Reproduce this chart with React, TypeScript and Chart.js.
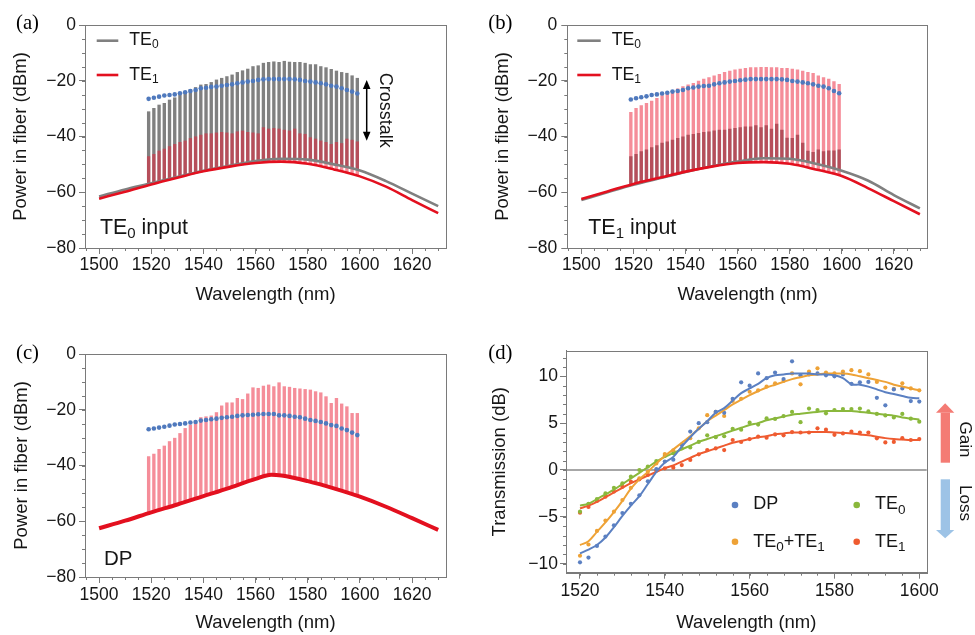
import React, { useEffect, useRef } from 'react';
import { Chart, registerables } from 'chart.js';

Chart.register(...registerables);

const FONT = '"Liberation Sans", Arial, Helvetica, sans-serif';
const SERIF = '"Liberation Serif", "Times New Roman", serif';
const AXIS = '#7a7a7a';
const TXT = '#161616';
const GREY = '#808080';
const RED = '#e3101f';
const PINK = 'rgba(236, 28, 52, 0.5)';
const DOT_BLUE = '#4f79bd';

// ---------------- tick labels ----------------
const SPEC_X_TICKS = [1500, 1520, 1540, 1560, 1580, 1600, 1620];
const SPEC_Y_TICKS = [0, -20, -40, -60, -80];
const TRANS_X_TICKS = [1520, 1540, 1560, 1580, 1600];
const TRANS_Y_TICKS = [-10, -5, 0, 5, 10];

// ---------------- spectra (a)-(c) ----------------
const CHANNELS = [1519, 1521, 1523, 1525, 1527, 1529, 1531, 1533, 1535, 1537, 1539, 1541, 1543, 1545, 1547, 1549, 1551, 1553, 1555, 1557, 1559, 1561, 1563, 1565, 1567, 1569, 1571, 1573, 1575, 1577, 1579, 1581, 1583, 1585, 1587, 1589, 1591, 1593, 1595, 1597, 1599];
const BASE_WL = [1500, 1510, 1520, 1530, 1540, 1550, 1560, 1570, 1580, 1590, 1600, 1610, 1620, 1630];

// (a) TE0 input
const A_TE0_BASE = [-61.5, -59.0, -56.8, -54.5, -52.3, -50.5, -48.8, -48.0, -48.3, -50.0, -52.2, -56.0, -60.5, -65.0];
const A_TE1_BASE = [-62.3, -59.8, -57.2, -54.8, -52.5, -50.8, -49.5, -49.0, -49.8, -51.8, -54.3, -58.0, -62.8, -67.5];
const A_TE0_PEAK = [-31.1, -29.9, -28.7, -28.1, -26.9, -26.1, -25.1, -24.1, -23.1, -22.4, -21.5, -21.3, -20.6, -19.7, -19.1, -18.5, -17.9, -17.0, -16.4, -15.8, -14.9, -14.6, -13.7, -13.4, -13.2, -13.4, -13.0, -13.3, -13.4, -13.4, -13.7, -14.2, -14.2, -14.9, -15.3, -15.9, -16.5, -17.0, -17.3, -18.2, -19.1];
const A_TE1_PEAK = [-47.2, -46.4, -45.2, -44.5, -43.6, -42.8, -42.1, -41.6, -40.7, -40.1, -39.5, -39.0, -39.0, -38.7, -38.5, -38.7, -39.0, -38.3, -38.0, -38.5, -38.7, -39.0, -36.8, -37.3, -37.1, -37.3, -37.7, -38.0, -37.3, -39.0, -39.2, -40.4, -40.9, -41.6, -42.1, -42.8, -42.1, -42.5, -40.9, -41.3, -41.9];
const A_DOTS = [-26.5, -26.1, -25.7, -25.3, -25.1, -24.9, -24.5, -24.1, -23.7, -23.3, -22.7, -22.5, -22.2, -22.1, -21.8, -21.5, -21.3, -20.9, -20.6, -20.3, -20.1, -19.7, -19.5, -19.4, -19.4, -19.4, -19.4, -19.4, -19.5, -19.7, -20.1, -20.3, -20.6, -20.9, -21.3, -21.8, -22.1, -22.7, -23.3, -23.9, -24.6];

// (b) TE1 input
const B_TE0_BASE = [-62.8, -60.0, -57.3, -55.0, -52.7, -50.7, -49.0, -47.8, -48.0, -49.8, -52.3, -55.8, -61.0, -65.8];
const B_TE1_BASE = [-62.4, -59.7, -57.0, -54.8, -52.6, -50.8, -49.5, -49.2, -49.8, -51.8, -54.2, -58.5, -63.2, -67.9];
const B_TE1_PEAK = [-31.3, -29.9, -28.9, -28.1, -27.3, -26.3, -25.3, -24.5, -23.7, -22.9, -22.1, -21.5, -20.9, -20.1, -19.4, -18.9, -18.2, -17.7, -17.0, -16.5, -16.1, -15.8, -15.5, -15.3, -15.3, -15.2, -15.2, -15.3, -15.3, -15.5, -15.5, -15.8, -16.1, -16.5, -17.0, -17.3, -18.2, -18.9, -19.4, -20.3, -21.3];
const B_TE0_PEAK = [-47.2, -46.4, -45.4, -44.8, -44.0, -43.3, -42.4, -41.9, -41.3, -40.7, -40.1, -39.5, -39.2, -38.9, -38.5, -38.3, -38.0, -37.7, -37.7, -37.3, -37.1, -36.8, -36.5, -36.5, -36.1, -36.8, -36.1, -37.3, -35.5, -37.7, -40.6, -40.7, -39.5, -42.4, -45.2, -45.7, -44.8, -45.4, -45.1, -45.1, -44.8];
const B_DOTS = [-26.7, -26.3, -25.9, -25.6, -25.1, -24.9, -24.6, -24.3, -23.9, -23.7, -23.3, -22.7, -22.4, -22.1, -21.9, -21.8, -21.3, -20.9, -20.6, -20.3, -20.1, -19.8, -19.6, -19.4, -19.4, -19.4, -19.4, -19.4, -19.4, -19.5, -19.7, -20.1, -20.3, -20.6, -20.9, -21.3, -21.8, -22.1, -22.7, -23.7, -24.5];

// (c) DP
const C_BASE_WL = [1500, 1510, 1520, 1530, 1540, 1550, 1560, 1566, 1570, 1580, 1590, 1600, 1610, 1620, 1630];
const C_BASE = [-62.5, -59.8, -56.8, -54.0, -51.0, -48.0, -44.8, -43.3, -43.6, -45.6, -48.2, -51.2, -54.8, -58.9, -63.1];
const C_PEAK = [-36.8, -35.9, -34.2, -33.0, -31.4, -30.2, -28.5, -26.7, -25.5, -24.9, -22.8, -22.5, -22.2, -21.0, -18.6, -17.5, -17.5, -15.9, -16.3, -14.3, -12.1, -12.3, -11.5, -11.1, -11.7, -10.3, -11.7, -11.9, -12.3, -12.5, -12.7, -12.9, -13.5, -13.9, -15.3, -17.7, -15.9, -17.9, -18.9, -21.3, -21.3];
const C_DOTS = [-27.0, -26.7, -26.4, -26.1, -25.7, -25.3, -25.1, -24.9, -24.6, -24.4, -23.9, -23.7, -23.4, -23.2, -22.9, -22.7, -22.5, -22.2, -22.0, -21.9, -21.8, -21.6, -21.5, -21.5, -21.5, -22.0, -22.0, -22.2, -22.5, -22.7, -23.2, -23.7, -24.0, -24.4, -24.9, -25.5, -25.8, -26.7, -27.3, -28.2, -29.1];

// ---------------- transmission (d) ----------------
const WL_D = [1520, 1522, 1524, 1526, 1528, 1530, 1532, 1534, 1536, 1538, 1540, 1542, 1544, 1546, 1548, 1550, 1552, 1554, 1556, 1558, 1560, 1562, 1564, 1566, 1568, 1570, 1572, 1574, 1576, 1578, 1580, 1582, 1584, 1586, 1588, 1590, 1592, 1594, 1596, 1598, 1600];
const DP_PTS = [-9.85, -9.35, -8.1, -7.1, -5.9, -4.6, -3.6, -2.7, -1.2, 0.1, 0.9, 1.1, 2.7, 4.1, 5.0, 5.1, 6.2, 6.1, 7.6, 9.35, 9.0, 10.3, 9.8, 10.4, 9.7, 11.6, 10.1, 10.2, 10.3, 10.1, 10.0, 10.2, 9.2, 9.35, 9.4, 7.7, 6.9, 8.6, 8.7, 7.35, 7.3];
const DP_FIT = [-8.9, -8.5, -8.0, -7.2, -6.1, -4.9, -3.8, -2.8, -1.5, -0.2, 0.8, 1.4, 2.5, 3.5, 4.4, 5.2, 6.1, 6.6, 7.4, 8.2, 8.7, 9.2, 9.8, 10.1, 10.2, 10.3, 10.3, 10.3, 10.2, 10.2, 10.1, 9.8, 9.15, 9.1, 8.9, 8.6, 8.3, 8.1, 7.9, 7.7, 7.65];
const SUM_PTS = [-9.15, -7.95, -6.5, -5.4, -4.45, -3.2, -1.9, -0.9, -0.2, 0.7, 1.7, 2.1, 2.7, 3.4, 4.45, 5.85, 6.2, 5.76, 7.36, 7.6, 8.35, 8.5, 8.9, 9.25, 9.5, 10.3, 9.14, 10.5, 10.85, 10.4, 10.3, 10.5, 10.65, 10.55, 10.2, 9.4, 8.8, 8.65, 9.25, 8.7, 8.5];
const SUM_FIT = [-8.0, -7.6, -6.6, -5.6, -4.5, -3.3, -2.0, -1.0, -0.2, 0.7, 1.5, 2.2, 2.9, 3.6, 4.4, 5.2, 5.8, 6.4, 7.0, 7.5, 8.0, 8.4, 8.8, 9.1, 9.4, 9.7, 9.9, 10.1, 10.2, 10.3, 10.3, 10.3, 10.2, 10.0, 9.8, 9.6, 9.4, 9.1, 8.9, 8.7, 8.5];
const TE0_PTS = [-4.45, -3.6, -3.1, -2.5, -1.9, -1.42, -0.71, 0.0, 0.36, 0.96, 1.5, 1.8, 2.3, 2.4, 3.0, 3.7, 3.5, 3.6, 4.4, 4.3, 5.05, 4.85, 5.5, 5.45, 5.75, 6.2, 5.1, 6.55, 6.4, 6.05, 6.4, 6.5, 6.5, 6.55, 6.25, 5.98, 5.82, 5.6, 5.98, 5.48, 5.16];
const TE0_FIT = [-3.8, -3.6, -3.1, -2.6, -2.1, -1.5, -0.9, -0.3, 0.3, 0.9, 1.4, 1.8, 2.2, 2.6, 3.0, 3.3, 3.6, 3.9, 4.2, 4.5, 4.8, 5.0, 5.3, 5.5, 5.7, 5.9, 6.0, 6.1, 6.2, 6.3, 6.3, 6.3, 6.3, 6.2, 6.1, 6.0, 5.9, 5.8, 5.6, 5.5, 5.4];
const TE1_PTS = [-4.55, -3.95, -3.3, -2.85, -2.3, -1.8, -1.25, -1.0, -0.53, -0.07, 0.18, 0.25, 0.53, 1.07, 1.67, 2.13, 2.3, 2.13, 3.2, 3.0, 3.3, 3.56, 3.45, 3.8, 3.7, 4.05, 4.0, 4.0, 4.45, 4.3, 3.75, 3.9, 4.09, 4.0, 4.0, 3.38, 2.94, 3.0, 3.4, 3.2, 3.3];
const TE1_FIT = [-4.1, -3.8, -3.4, -2.9, -2.4, -1.9, -1.4, -1.0, -0.6, -0.2, 0.2, 0.5, 0.9, 1.3, 1.7, 2.0, 2.3, 2.6, 2.9, 3.1, 3.3, 3.5, 3.6, 3.8, 3.9, 4.0, 4.0, 4.05, 4.05, 4.05, 4.0, 3.95, 3.9, 3.8, 3.7, 3.55, 3.4, 3.3, 3.25, 3.2, 3.2];

const C_DP = '#5b80c2';
const C_SUM = '#eea236';
const C_TE0 = '#8ab83c';
const C_TE1 = '#ef5b30';

// ---------------- helpers ----------------
function interp(xs: number[], ys: number[], x: number): number {
  for (let i = 0; i < xs.length - 1; i++) {
    if (x >= xs[i] && x <= xs[i + 1]) {
      const t = (x - xs[i]) / (xs[i + 1] - xs[i]);
      return ys[i] + t * (ys[i + 1] - ys[i]);
    }
  }
  return ys[ys.length - 1];
}
const pts = (xs: number[], ys: number[]) => xs.map((x, i) => ({ x, y: ys[i] }));
const minus = (v: number) => (v < 0 ? '\u2212' + Math.abs(v) : String(v));

type Seg = [string, number, number?];
function rich(ctx: CanvasRenderingContext2D, x: number, y: number, segs: Seg[]) {
  ctx.save();
  ctx.fillStyle = TXT;
  ctx.textAlign = 'left';
  ctx.textBaseline = 'alphabetic';
  let cx = x;
  for (const [t, s, dy] of segs) {
    ctx.font = `${s}px ${FONT}`;
    ctx.fillText(t, cx, y + (dy || 0));
    cx += ctx.measureText(t).width;
  }
  ctx.restore();
}
function rotText(ctx: CanvasRenderingContext2D, t: string, x: number, y: number, size: number) {
  ctx.save();
  ctx.translate(x, y);
  ctx.rotate(Math.PI / 2);
  ctx.fillStyle = TXT;
  ctx.font = `${size}px ${FONT}`;
  ctx.textAlign = 'left';
  ctx.textBaseline = 'alphabetic';
  ctx.fillText(t, 0, 0);
  ctx.restore();
}
function legendLine(ctx: CanvasRenderingContext2D, x1: number, x2: number, y: number, color: string) {
  ctx.save();
  ctx.strokeStyle = color;
  ctx.lineWidth = 2.6;
  ctx.beginPath();
  ctx.moveTo(x1, y);
  ctx.lineTo(x2, y);
  ctx.stroke();
  ctx.restore();
}
function panelLabel(ctx: CanvasRenderingContext2D, t: string, x: number, y: number) {
  ctx.save();
  ctx.fillStyle = '#000';
  ctx.font = `20.7px ${SERIF}`;
  ctx.textAlign = 'left';
  ctx.textBaseline = 'alphabetic';
  ctx.fillText(t, x, y);
  ctx.restore();
}
function doubleArrow(ctx: CanvasRenderingContext2D, x: number, y1: number, y2: number) {
  ctx.save();
  ctx.strokeStyle = '#000';
  ctx.fillStyle = '#000';
  ctx.lineWidth = 1.5;
  ctx.beginPath();
  ctx.moveTo(x, y1 + 6);
  ctx.lineTo(x, y2 - 6);
  ctx.stroke();
  ctx.beginPath();
  ctx.moveTo(x, y1);
  ctx.lineTo(x - 3.8, y1 + 9);
  ctx.lineTo(x + 3.8, y1 + 9);
  ctx.closePath();
  ctx.fill();
  ctx.beginPath();
  ctx.moveTo(x, y2);
  ctx.lineTo(x - 3.8, y2 - 9);
  ctx.lineTo(x + 3.8, y2 - 9);
  ctx.closePath();
  ctx.fill();
  ctx.restore();
}
function blockArrow(ctx: CanvasRenderingContext2D, color: string, sx1: number, sx2: number, sy1: number, sy2: number, hx1: number, hx2: number, baseY: number, tipY: number) {
  ctx.save();
  ctx.fillStyle = color;
  ctx.fillRect(sx1, Math.min(sy1, sy2), sx2 - sx1, Math.abs(sy2 - sy1));
  ctx.beginPath();
  ctx.moveTo(hx1, baseY);
  ctx.lineTo(hx2, baseY);
  ctx.lineTo((hx1 + hx2) / 2, tipY);
  ctx.closePath();
  ctx.fill();
  ctx.restore();
}
function dot(ctx: CanvasRenderingContext2D, x: number, y: number, color: string) {
  ctx.save();
  ctx.fillStyle = color;
  ctx.beginPath();
  ctx.arc(x, y, 3.3, 0, Math.PI * 2);
  ctx.fill();
  ctx.restore();
}

// frame + minor ticks + annotations
function decoPlugin(xMinor: number[], yMinor: number[], zeroLine: boolean, draw: (ctx: CanvasRenderingContext2D) => void) {
  return {
    id: 'deco',
    beforeDatasetsDraw(chart: any) {
      if (!zeroLine) return;
      const { ctx, chartArea: ca, scales } = chart;
      const p = scales.y.getPixelForValue(0);
      ctx.save();
      ctx.strokeStyle = '#8a8a8a';
      ctx.lineWidth = 1.5;
      ctx.beginPath();
      ctx.moveTo(ca.left, p);
      ctx.lineTo(ca.right, p);
      ctx.stroke();
      ctx.restore();
    },
    afterDraw(chart: any) {
      const { ctx, chartArea: ca, scales } = chart;
      ctx.save();
      ctx.strokeStyle = AXIS;
      ctx.lineWidth = 1;
      ctx.beginPath();
      for (const v of xMinor) {
        const p = Math.round(scales.x.getPixelForValue(v)) + 0.5;
        ctx.moveTo(p, ca.bottom);
        ctx.lineTo(p, ca.bottom + 3);
      }
      for (const v of yMinor) {
        const p = Math.round(scales.y.getPixelForValue(v)) + 0.5;
        ctx.moveTo(ca.left, p);
        ctx.lineTo(ca.left - 3, p);
      }
      ctx.stroke();
      ctx.strokeRect(Math.round(ca.left) + 0.5, Math.round(ca.top) + 0.5, Math.round(ca.right - ca.left), Math.round(ca.bottom - ca.top));
      ctx.restore();
      draw(ctx);
    },
  };
}

function range(a: number, b: number, s: number) {
  const out: number[] = [];
  for (let v = a; v <= b + 1e-9; v += s) out.push(v);
  return out;
}

interface Geo { yW: number; xH: number; top: number; right: number; yTitlePad: number; xTitlePad: number; xTickPad: number; yTickPad: number; }

function scales(g: Geo, xr: [number, number], yr: [number, number], xt: number[], yt: number[], yTitle: string) {
  return {
    x: {
      type: 'linear', min: xr[0], max: xr[1], offset: false,
      afterBuildTicks: (s: any) => { s.ticks = xt.map((v) => ({ value: v })); },
      afterFit: (s: any) => { s.height = g.xH; },
      grid: { display: true, drawOnChartArea: false, drawTicks: true, tickLength: 6, tickColor: AXIS, offset: false },
      border: { display: true, color: AXIS, width: 1 },
      ticks: { autoSkip: false, maxRotation: 0, minRotation: 0, padding: g.xTickPad, color: TXT, font: { family: FONT, size: 17.5 }, callback: (v: number) => minus(v) },
      title: { display: true, text: 'Wavelength (nm)', color: TXT, font: { family: FONT, size: 18.5 }, padding: { top: 0, bottom: g.xTitlePad } },
    },
    y: {
      type: 'linear', min: yr[0], max: yr[1], beginAtZero: false,
      afterBuildTicks: (s: any) => { s.ticks = yt.map((v) => ({ value: v })); },
      afterFit: (s: any) => { s.width = g.yW; },
      grid: { display: true, drawOnChartArea: false, drawTicks: true, tickLength: 6, tickColor: AXIS },
      border: { display: true, color: AXIS, width: 1 },
      ticks: { autoSkip: false, padding: g.yTickPad, color: TXT, font: { family: FONT, size: 17.5 }, callback: (v: number) => minus(v) },
      title: { display: true, text: yTitle, color: TXT, font: { family: FONT, size: 18.5 }, padding: { top: g.yTitlePad, bottom: 0 } },
    },
  };
}

function spikes(base: number[], baseWl: number[], peaks: number[], color: string, order: number) {
  return {
    type: 'bar', order, grouped: false, barThickness: 2.7, borderWidth: 0, borderSkipped: false,
    backgroundColor: color,
    data: CHANNELS.map((w, i) => ({ x: w, y: [interp(baseWl, base, w), peaks[i]] })),
  };
}
function baseLine(wl: number[], vals: number[], color: string, width: number, order: number) {
  return { type: 'line', order, data: pts(wl, vals), borderColor: color, borderWidth: width, pointRadius: 0, cubicInterpolationMode: 'monotone', fill: false };
}
function dots(vals: number[], order: number) {
  return { type: 'line', order, data: pts(CHANNELS, vals), showLine: false, pointRadius: 2.3, pointBackgroundColor: DOT_BLUE, pointBorderWidth: 0, borderColor: DOT_BLUE };
}

function spectrumConfig(g: Geo, datasets: any[], deco: any) {
  return {
    type: 'bar',
    data: { datasets },
    plugins: [deco],
    options: {
      responsive: false, animation: false, devicePixelRatio: 1, events: [],
      layout: { padding: { left: 0, top: g.top, right: g.right, bottom: 0 } },
      plugins: { legend: { display: false }, tooltip: { enabled: false } },
      scales: scales(g, [1494.6, 1633], [-80, 0], SPEC_X_TICKS, SPEC_Y_TICKS, 'Power in fiber (dBm)'),
    },
  };
}

const SPEC_X_MINOR = range(1495, 1630, 5);
const SPEC_Y_MINOR = range(-80, 0, 5);

function configA() {
  const g: Geo = { yW: 85, xH: 72, top: 25, right: 41, yTitlePad: 9.9, xTitlePad: 13.9, xTickPad: 1, yTickPad: 3 };
  return spectrumConfig(g, [
    dots(A_DOTS, 0),
    baseLine(BASE_WL, A_TE1_BASE, RED, 2.6, 1),
    baseLine(BASE_WL, A_TE0_BASE, GREY, 2.6, 2),
    spikes(A_TE1_BASE, BASE_WL, A_TE1_PEAK, PINK, 3),
    spikes(A_TE0_BASE, BASE_WL, A_TE0_PEAK, GREY, 4),
  ], decoPlugin(SPEC_X_MINOR, SPEC_Y_MINOR, false, (ctx) => {
    legendLine(ctx, 96.7, 118.3, 40.7, GREY);
    rich(ctx, 129.3, 45, [['TE', 17.7], ['0', 12, 2.7]]);
    legendLine(ctx, 96.7, 118.3, 75, RED);
    rich(ctx, 129.3, 80, [['TE', 17.7], ['1', 12, 2.7]]);
    rich(ctx, 100, 234.3, [['TE', 21.4], ['0', 15, 4], [' input', 21.4]]);
    rotText(ctx, 'Crosstalk', 379.5, 72.7, 18);
    doubleArrow(ctx, 366.7, 80, 140.7);
    panelLabel(ctx, '(a)', 16, 29.4);
  }));
}

function configB() {
  const g: Geo = { yW: 80.3, xH: 72, top: 25, right: 47.3, yTitlePad: 5.2, xTitlePad: 13.9, xTickPad: 1, yTickPad: 4 };
  return spectrumConfig(g, [
    dots(B_DOTS, 0),
    baseLine(BASE_WL, B_TE1_BASE, RED, 2.6, 1),
    baseLine(BASE_WL, B_TE0_BASE, GREY, 2.6, 2),
    spikes(B_TE1_BASE, BASE_WL, B_TE1_PEAK, PINK, 3),
    spikes(B_TE0_BASE, BASE_WL, B_TE0_PEAK, GREY, 4),
  ], decoPlugin(SPEC_X_MINOR, SPEC_Y_MINOR, false, (ctx) => {
    legendLine(ctx, 90.3, 113.7, 40.7, GREY);
    rich(ctx, 124.7, 45, [['TE', 17.7], ['0', 12, 2.7]]);
    legendLine(ctx, 90.3, 113.7, 75, RED);
    rich(ctx, 124.7, 80, [['TE', 17.7], ['1', 12, 2.7]]);
    rich(ctx, 101.3, 234.3, [['TE', 21.4], ['1', 15, 4], [' input', 21.4]]);
    panelLabel(ctx, '(b)', 1.3, 29.4);
  }));
}

function configC() {
  const g: Geo = { yW: 85, xH: 58, top: 34, right: 41, yTitlePad: 10.6, xTitlePad: 0.6, xTickPad: 1.5, yTickPad: 3 };
  return spectrumConfig(g, [
    dots(C_DOTS, 0),
    baseLine(C_BASE_WL, C_BASE, RED, 4, 1),
    spikes(C_BASE, C_BASE_WL, C_PEAK, PINK, 3),
  ], decoPlugin(SPEC_X_MINOR, SPEC_Y_MINOR, false, (ctx) => {
    rich(ctx, 104, 245, [['DP', 20.5]]);
    panelLabel(ctx, '(c)', 16, 39.4);
  }));
}

function configD() {
  const g: Geo = { yW: 79, xH: 62.3, top: 30.7, right: 48.3, yTitlePad: 1.9, xTitlePad: 1.2, xTickPad: 1.6, yTickPad: 2 };
  const line = (vals: number[], color: string, order: number) => ({ type: 'line', order, data: pts(WL_D, vals), borderColor: color, borderWidth: 2, pointRadius: 0, tension: 0.35, fill: false });
  const scat = (vals: number[], color: string, order: number) => ({ type: 'line', order, data: pts(WL_D, vals), showLine: false, pointRadius: 2.1, pointBackgroundColor: color, pointBorderWidth: 0, borderColor: color });
  return {
    type: 'line',
    data: {
      datasets: [
        line(DP_FIT, C_DP, 0), line(SUM_FIT, C_SUM, 1), line(TE0_FIT, C_TE0, 2), line(TE1_FIT, C_TE1, 3),
        scat(DP_PTS, C_DP, 4), scat(SUM_PTS, C_SUM, 5), scat(TE0_PTS, C_TE0, 6), scat(TE1_PTS, C_TE1, 7),
      ],
    },
    plugins: [decoPlugin(range(1520, 1600, 4), range(-10, 12, 1), true, (ctx) => {
      dot(ctx, 248, 185, C_DP);
      rich(ctx, 266.3, 189.3, [['DP', 18]]);
      dot(ctx, 369.7, 185, C_TE0);
      rich(ctx, 388, 189.3, [['TE', 18], ['0', 13.5, 4.5]]);
      dot(ctx, 248, 221.7, C_SUM);
      rich(ctx, 266.3, 226.7, [['TE', 18], ['0', 13.5, 4.5], ['+TE', 18], ['1', 13.5, 4.5]]);
      dot(ctx, 369.7, 221.7, C_TE1);
      rich(ctx, 388, 226.7, [['TE', 18], ['1', 13.5, 4.5]]);
      blockArrow(ctx, '#f47b74', 453.7, 463, 92.7, 142.7, 449, 467.3, 92.7, 83.3);
      blockArrow(ctx, '#9dc3e6', 453.7, 463, 159.3, 210, 449, 467.3, 210, 218.3);
      rotText(ctx, 'Gain', 472.5, 101.5, 17);
      rotText(ctx, 'Loss', 472.5, 165, 17);
      panelLabel(ctx, '(d)', 1.3, 39.4);
    })],
    options: {
      responsive: false, animation: false, devicePixelRatio: 1, events: [],
      layout: { padding: { left: 0, top: g.top, right: g.right, bottom: 0 } },
      plugins: { legend: { display: false }, tooltip: { enabled: false } },
      scales: scales(g, [1516.7, 1601.75], [-10.96, 12.73], TRANS_X_TICKS, TRANS_Y_TICKS, 'Transmission (dB)'),
    },
  };
}

function ChartBox({ left, top, width, height, make }: { left: number; top: number; width: number; height: number; make: () => any }) {
  const ref = useRef<HTMLCanvasElement>(null);
  useEffect(() => {
    const chart = new Chart(ref.current as HTMLCanvasElement, make());
    return () => chart.destroy();
  }, []);
  return (
    <canvas ref={ref} width={width} height={height} style={{ position: 'absolute', left, top, width, height }} />
  );
}

export default function App() {
  return (
    <div style={{ position: 'absolute', left: 0, top: 0, width: 975, height: 635, background: '#ffffff', overflow: 'hidden' }}>
      <ChartBox left={0} top={0} width={487} height={320} make={configA} />
      <ChartBox left={487} top={0} width={488} height={320} make={configB} />
      <ChartBox left={0} top={320} width={487} height={315} make={configC} />
      <ChartBox left={487} top={320} width={488} height={315} make={configD} />
    </div>
  );
}
